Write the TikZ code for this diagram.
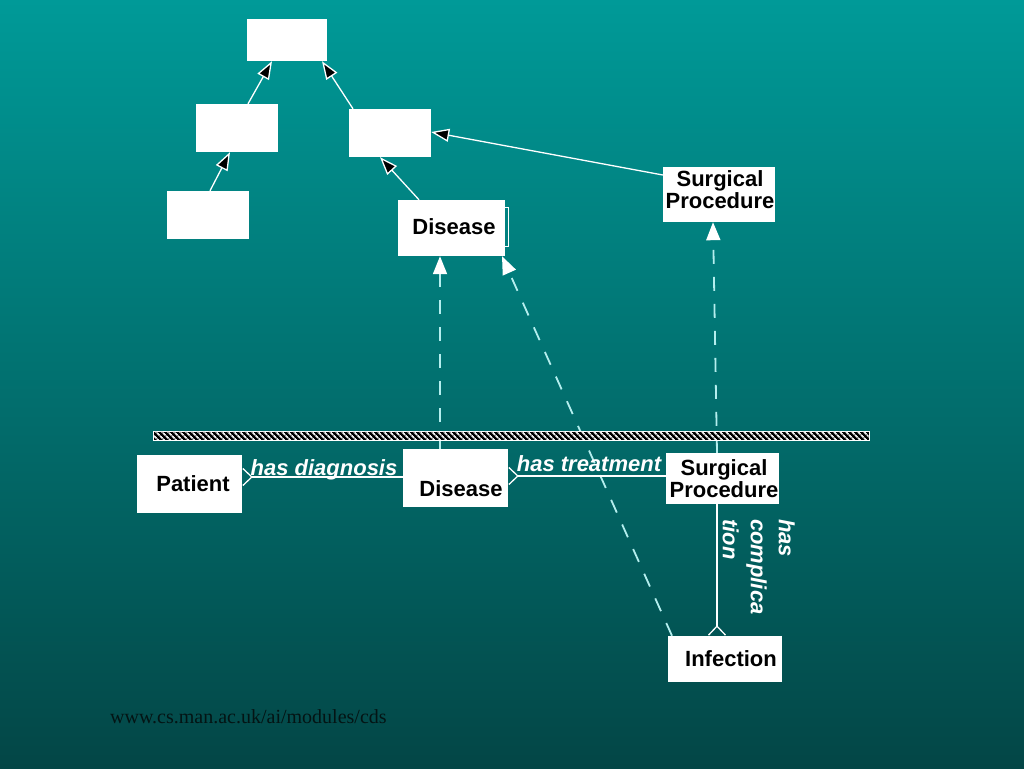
\documentclass[tikz,border=0pt]{standalone}
\usepackage{fontspec}
\setmainfont{Liberation Serif}
\newfontfamily\arialf{Liberation Sans}
\usetikzlibrary{arrows.meta,patterns.meta,calc}
\definecolor{bgtop}{RGB}{0,154,152}
\definecolor{bgmid}{RGB}{0,124,124}
\definecolor{bgbot}{RGB}{3,70,70}
\definecolor{dashc}{RGB}{180,238,238}
\definecolor{urlc}{RGB}{4,20,20}
\begin{document}
\begin{tikzpicture}[x=1pt,y=-1pt,
  box/.style={draw=none, fill=white, inner sep=0pt, text=black, align=center,
    font=\arialf\bfseries\fontsize{22}{22}\selectfont},
  boxtxt/.style={inner sep=0pt, text=black, font=\arialf\bfseries\fontsize{22}{22}\selectfont},
  rel/.style={inner sep=0pt, text=white, font=\arialf\bfseries\itshape\fontsize{22}{28}\selectfont},
  isa/.style={white, line width=1.3pt, -{Triangle[length=18pt,width=13pt,fill=black]}},
  inst/.style={dashc, line width=1.8pt, dash pattern=on 14pt off 13pt,
    -{Triangle[length=18pt,width=14pt,color=white,fill=white]}},
  relline/.style={white, line width=1.3pt, {Straight Barb[reversed,length=9pt,width=17pt]}-}
]
\useasboundingbox (0,0) rectangle (1024,768);
\shade[top color=bgtop, middle color=bgmid, bottom color=bgbot] (0,0) rectangle (1024,768);

% upper hierarchy
\node[box, minimum width=80pt, minimum height=42pt] (top) at (287,40) {};
\node[box, minimum width=82pt, minimum height=48pt] (lm) at (237,128) {};
\node[box, minimum width=82pt, minimum height=48pt] (rm) at (390,133) {};
\node[box, minimum width=82pt, minimum height=48pt] (lb) at (208,215) {};
\draw[white, line width=1pt] (496,207) rectangle (508,246);
\node[box, minimum width=107pt, minimum height=56pt] (dis1) at (451,228) {};
\node[boxtxt] (dis1t) at (454,227) {Disease};
\node[box, minimum width=112pt, minimum height=55pt] (sp1) at (719,194.5) {};
\node[boxtxt, align=center] (sp1t) at (720,190) {Surgical\\Procedure};

\draw[isa] ([xshift=11pt]lm.north) -- ([xshift=-15pt]top.south);
\draw[isa] ([xshift=-37pt]rm.north) -- ([xshift=35pt]top.south);
\draw[isa] ([xshift=2pt]lb.north) -- ([xshift=-7pt]lm.south);
\draw[isa] ([xshift=-32pt]dis1.north) -- ([xshift=-10pt]rm.south);
\draw[isa] ([yshift=19.5pt]sp1.west) -- ([yshift=1pt]rm.east);

% lower level
\node[box, minimum width=105pt, minimum height=58pt] (pat) at (189.5,484) {};
\node[boxtxt] (patt) at (193,484) {Patient};
\node[box, minimum width=105pt, minimum height=58pt] (dis2) at (455.5,478) {};
\node[boxtxt] (dis2t) at (461,489) {Disease};
\node[box, minimum width=113pt, minimum height=51pt] (sp2) at (722.5,478.5) {};
\node[boxtxt, align=center] (sp2t) at (724,478.5) {Surgical\\Procedure};
\node[box, minimum width=114pt, minimum height=46pt] (inf) at (725,659) {};
\node[boxtxt] (inft) at (731,659) {Infection};

% instance-of dashed arrows
\draw[inst] ([xshift=-15.5pt]dis2.north) -- ([xshift=-11pt]dis1.south);
\draw[inst] ([xshift=-53pt]inf.north) -- ([xshift=51pt]dis1.south);
\draw[inst] ([xshift=-5.5pt]sp2.north) -- ([xshift=-6pt]sp1.south);

% hatched bar
\draw[white, line width=0.8pt, fill=black] (153,431) rectangle (869,440);
\fill[pattern={Lines[angle=-45, distance=4pt, line width=1.8pt]}, pattern color=white!85!gray] (153.5,431.5) rectangle (868.5,439.5);

% relations
\draw[relline] ([yshift=7pt]pat.east) -- ([yshift=1pt]dis2.west);
\draw[relline] ([yshift=2pt]dis2.east) -- ([yshift=2.5pt]sp2.west);
\draw[relline] ([xshift=-8pt]inf.north) -- ([xshift=-5.5pt]sp2.south);

\node[rel, anchor=base] (hd) at (324,475) {has diagnosis};
\node[rel, anchor=base] (ht) at (589,471) {has treatment};
\node[rel, rotate=-90, anchor=north west, align=left] (hc) at (795,519) {has\\complica\\tion};

\node[anchor=base west, inner sep=0pt, text=urlc, font=\fontsize{20}{20}\selectfont] (url) at (110,723) {www.cs.man.ac.uk/ai/modules/cds};
\end{tikzpicture}
\end{document}
